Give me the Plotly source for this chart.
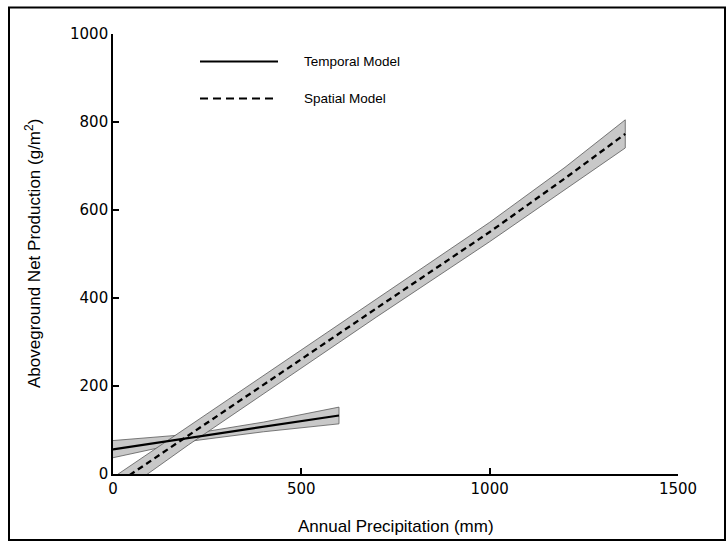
import plotly.graph_objects as go

# ---- data ----
temporal_x = [0, 200, 400, 600]
temporal_y = [56, 82, 107, 133]
temporal_upper = [76, 90, 118, 152]
temporal_lower = [37, 74, 96, 114]

spatial_x = [0, 200, 450, 700, 1000, 1200, 1360]
spatial_y = [-28, 87, 232, 377, 550, 672, 773]
spatial_upper = [-8, 108, 252, 397, 572, 697, 805]
spatial_lower = [-56, 66, 212, 357, 528, 647, 741]

x_ticks = [0, 500, 1000, 1500]
y_ticks = [0, 200, 400, 600, 800, 1000]

legend_names = ["Temporal Model", "Spatial Model"]

# ---- layout geometry (pixels) ----
W, H = 728, 542
L, R, T, B = 113, 50, 33.5, 68
PW, PH = W - L - R, H - T - B


def px(x):
    return (x - L) / PW


def py(y):
    return (H - B - y) / PH


band_fill = "rgb(200,200,200)"
band_edge = "rgb(90,90,90)"

fig = go.Figure()


def add_band(xs, up, lo):
    fig.add_trace(go.Scatter(
        x=list(xs) + list(xs)[::-1],
        y=list(up) + list(lo)[::-1],
        mode="lines", fill="toself", fillcolor=band_fill,
        line=dict(color=band_edge, width=0.8),
        hoverinfo="skip", showlegend=False,
    ))


add_band(temporal_x, temporal_upper, temporal_lower)
add_band(spatial_x, spatial_upper, spatial_lower)

fig.add_trace(go.Scatter(
    x=temporal_x, y=temporal_y, mode="lines",
    line=dict(color="black", width=2.2), name=legend_names[0], showlegend=False,
))
fig.add_trace(go.Scatter(
    x=spatial_x, y=spatial_y, mode="lines",
    line=dict(color="black", width=2.3, dash="6px,4px"), name=legend_names[1], showlegend=False,
))

axis_common = dict(
    showgrid=False, zeroline=False, showline=True, linecolor="black", linewidth=1.6,
    ticks="inside", ticklen=6, tickwidth=1.6, tickcolor="black",
    tickfont=dict(family="DejaVu Sans", size=15, color="black"),
    fixedrange=True,
)

fig.update_layout(
    width=W, height=H,
    margin=dict(l=L, r=R, t=T, b=B, pad=0),
    paper_bgcolor="white", plot_bgcolor="white",
    xaxis=dict(range=[0, 1500], tickvals=x_ticks, **axis_common),
    yaxis=dict(range=[0, 1000], tickvals=y_ticks, **axis_common),
    showlegend=False,
    font=dict(family="Liberation Sans", color="black"),
)

shapes = []
# outer frame
shapes.append(dict(type="rect", xref="paper", yref="paper",
                   x0=px(9), x1=px(725), y0=py(540), y1=py(7),
                   line=dict(color="black", width=2), fillcolor="rgba(0,0,0,0)"))
# legend samples
shapes.append(dict(type="line", xref="paper", yref="paper",
                   x0=px(200), x1=px(278), y0=py(61), y1=py(61),
                   line=dict(color="black", width=2)))
shapes.append(dict(type="line", xref="paper", yref="paper",
                   x0=px(200), x1=px(278), y0=py(98), y1=py(98),
                   line=dict(color="black", width=2, dash="8px,5px")))
fig.update_layout(shapes=shapes)

annotations = [
    dict(text=legend_names[0], xref="paper", yref="paper", x=px(302), y=py(61),
         xanchor="left", yanchor="middle", showarrow=False,
         font=dict(family="Liberation Sans", size=13.5, color="black")),
    dict(text=legend_names[1], xref="paper", yref="paper", x=px(302), y=py(98),
         xanchor="left", yanchor="middle", showarrow=False,
         font=dict(family="Liberation Sans", size=13.5, color="black")),
    dict(text="Annual Precipitation (mm)", xref="paper", yref="paper",
         x=0.5, y=py(527), xanchor="center", yanchor="middle", showarrow=False,
         font=dict(family="Liberation Sans", size=17, color="black")),
    dict(text="Aboveground Net Production (g/m<sup>2</sup>)", xref="paper", yref="paper",
         x=px(33), y=0.5, xanchor="center", yanchor="middle", textangle=-90, showarrow=False,
         font=dict(family="Liberation Sans", size=17, color="black")),
]
fig.update_layout(annotations=annotations)

fig.write_html(
    "out.html",
    config={"displayModeBar": False},
    post_script="document.body.style.margin='0';document.body.style.overflow='hidden';",
)
